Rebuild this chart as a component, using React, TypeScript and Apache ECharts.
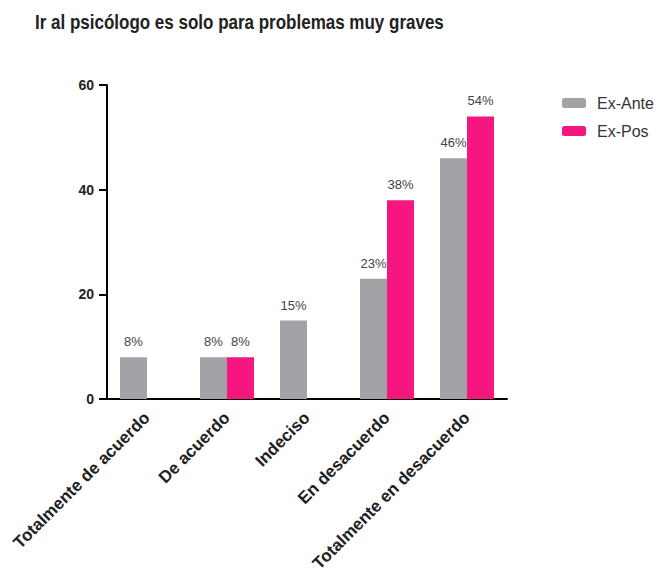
import React, { useEffect, useRef } from "react";
import * as echarts from "echarts";

const categories = ["Totalmente de acuerdo", "De acuerdo", "Indeciso", "En desacuerdo", "Totalmente en desacuerdo"];
const exAnte = [8, 8, 15, 23, 46];
const exPos = [0, 8, 0, 38, 54];
const yTicks = { min: 0, max: 60, interval: 20 };
const titleText = "Ir al psicólogo es solo para problemas muy graves";

const GRAY = "#A3A2A7";
const PINK = "#F5177F";
const FONT = "Liberation Sans";

export default function App() {
  const ref = useRef<HTMLDivElement>(null);
  useEffect(() => {
    const chart = echarts.init(ref.current!, null, { renderer: "svg" });
    const label = {
      show: true,
      position: "top",
      distance: 9,
      fontFamily: FONT,
      fontSize: 13,
      color: "#444",
      formatter: (p: any) => (p.value ? p.value + "%" : ""),
    };
    chart.setOption({
      animation: false,
      backgroundColor: "#fff",
      graphic: [
        {
          type: "text",
          x: 35,
          y: 22,
          scaleX: 0.85,
          style: {
            text: titleText,
            fontFamily: FONT,
            fontSize: 20,
            fontWeight: "bold",
            fill: "#222",
            textVerticalAlign: "middle",
            verticalAlign: "middle",
          },
        },
      ],
      legend: {
        orient: "vertical",
        left: 557,
        top: 90,
        itemWidth: 24,
        itemHeight: 10,
        itemGap: 12,
        textStyle: { fontFamily: FONT, fontSize: 16, color: "#333", padding: [0, 0, 0, 6] },
        data: ["Ex-Ante", "Ex-Pos"],
      },
      grid: { left: 107, right: 154, top: 85, bottom: 173, containLabel: false, outerBoundsMode: "none" },
      xAxis: {
        type: "category",
        data: categories,
        axisLine: { lineStyle: { color: "#000", width: 2 } },
        axisTick: { alignWithLabel: true, length: 7, lineStyle: { color: "#000", width: 2 } },
        axisLabel: {
          rotate: 45,
          interval: 0,
          margin: 16,
          fontFamily: FONT,
          fontSize: 17,
          fontWeight: "bold",
          color: "#222",
        },
      },
      yAxis: {
        type: "value",
        min: yTicks.min,
        max: yTicks.max,
        interval: yTicks.interval,
        splitLine: { show: false },
        axisLine: { show: true, lineStyle: { color: "#000", width: 2 } },
        axisTick: { show: true, length: 8, lineStyle: { color: "#000", width: 2 } },
        axisLabel: { fontFamily: FONT, fontSize: 14, fontWeight: "bold", color: "#222", margin: 13 },
      },
      series: [
        {
          name: "Ex-Ante",
          type: "bar",
          data: exAnte,
          barWidth: 27,
          barGap: "0%",
          itemStyle: { color: GRAY },
          label,
        },
        {
          name: "Ex-Pos",
          type: "bar",
          data: exPos,
          barWidth: 27,
          barGap: "0%",
          itemStyle: { color: PINK },
          label,
        },
      ],
    });
    return () => chart.dispose();
  }, []);
  return <div ref={ref} style={{ width: 661, height: 572, position: "absolute", left: 0, top: 0 }} />;
}
